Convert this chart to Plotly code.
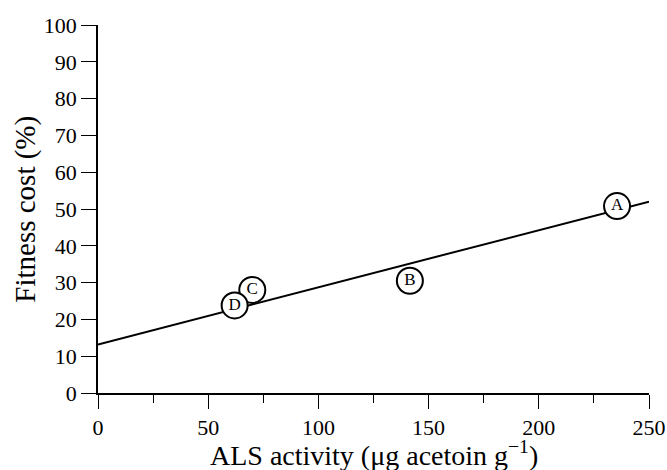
import plotly.graph_objects as go

# Data
labels = ["A", "B", "C", "D"]
als_activity = [235.5, 141.5, 70, 62]
fitness_cost = [50.8, 30.5, 28.0, 23.8]

fit_x = [0, 250]
fit_y = [13.2, 52.0]

x_ticks = [0, 50, 100, 150, 200, 250]
y_ticks = [0, 10, 20, 30, 40, 50, 60, 70, 80, 90, 100]

x_title = "ALS activity (μg acetoin g<sup>−1</sup>)"
y_title = "Fitness cost (%)"

FONT = "Liberation Serif"

fig = go.Figure()
fig.add_trace(go.Scatter(
    x=fit_x, y=fit_y, mode="lines",
    line=dict(color="black", width=2), hoverinfo="skip", showlegend=False,
))
fig.add_trace(go.Scatter(
    x=als_activity, y=fitness_cost, mode="markers+text",
    text=labels, textposition="middle center",
    textfont=dict(family=FONT, size=17, color="black"),
    marker=dict(size=26, color="white", line=dict(color="black", width=2)),
    showlegend=False, cliponaxis=False,
))

fig.update_layout(
    width=667, height=470,
    margin=dict(l=98, r=18, t=25, b=77),
    paper_bgcolor="white", plot_bgcolor="white",
    font=dict(family=FONT, size=22, color="black"),
    xaxis=dict(
        range=[0, 250], tickvals=x_ticks, ticktext=[str(v) for v in x_ticks],
        ticks="outside", ticklen=14, tickwidth=1.3, tickcolor="black",
        showline=True, linecolor="black", linewidth=1.5,
        showgrid=False, zeroline=False, automargin=False,
        minor=dict(ticks="outside", ticklen=8, tickwidth=1.2, tickcolor="black",
                   dtick=25, tick0=0, showgrid=False),
        tickfont=dict(size=22),
    ),
    yaxis=dict(
        range=[0, 100], tickvals=y_ticks, ticktext=[str(v) for v in y_ticks],
        ticks="outside", ticklen=15, tickwidth=1.3, tickcolor="black",
        showline=True, linecolor="black", linewidth=1.5,
        showgrid=False, zeroline=False, automargin=False,
        tickfont=dict(size=22),
    ),
    annotations=[
        dict(text=x_title, xref="paper", yref="paper", x=0.5, y=-0.165,
             xanchor="center", yanchor="middle", showarrow=False,
             font=dict(family=FONT, size=28, color="black")),
        dict(text=y_title, xref="paper", yref="paper", x=-0.133, y=0.5,
             xanchor="center", yanchor="middle", textangle=-90, showarrow=False,
             font=dict(family=FONT, size=29, color="black")),
    ],
)

fig.write_html(
    "out.html",
    config={"displayModeBar": False},
    post_script="document.body.style.margin='0';document.body.style.overflow='hidden';",
)
